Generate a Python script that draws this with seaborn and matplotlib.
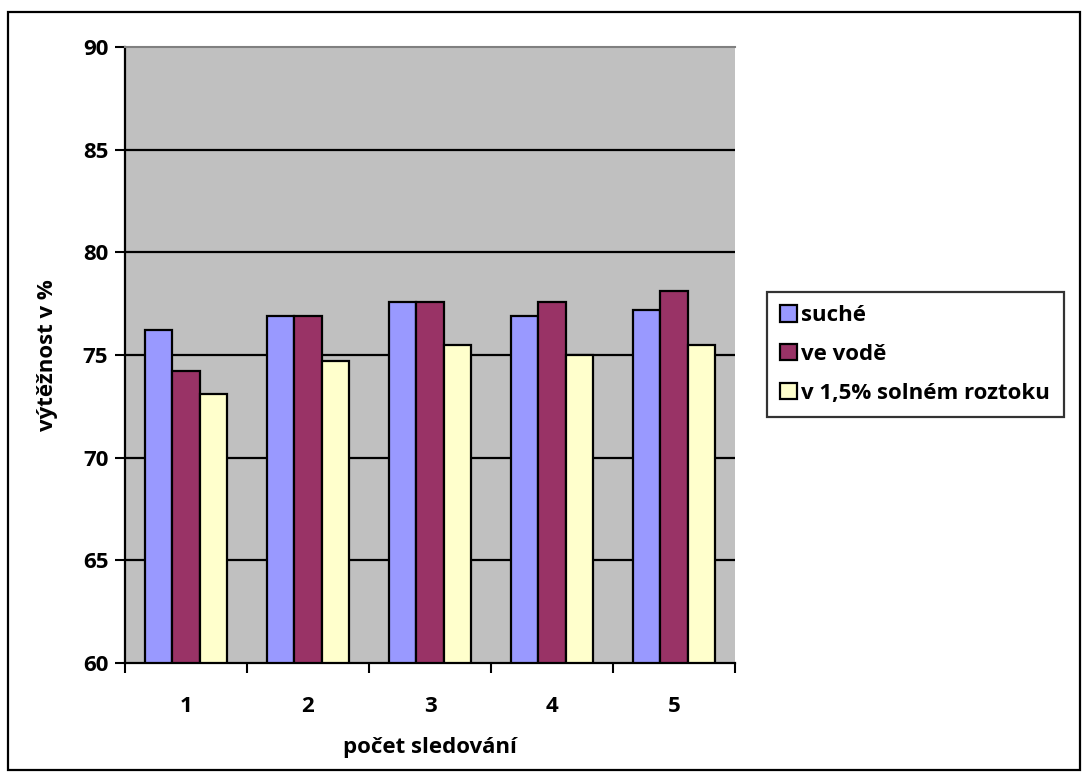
import matplotlib
matplotlib.use("Agg")
import matplotlib.pyplot as plt
import seaborn as sns
import pandas as pd
from matplotlib.patches import Rectangle
from matplotlib.ticker import FixedLocator

# data
categories = ["1", "2", "3", "4", "5"]
series_names = ["suché", "ve vodě", "v 1,5% solném roztoku"]
suche = [76.2, 76.9, 77.6, 76.9, 77.2]
ve_vode = [74.2, 76.9, 77.6, 77.6, 78.1]
solny = [73.1, 74.7, 75.5, 75.0, 75.5]
y_ticks = [60, 65, 70, 75, 80, 85, 90]

colors = ["#9999FF", "#993366", "#FFFFCC"]

df = pd.DataFrame({
    "počet sledování": categories * 3,
    "series": [series_names[0]] * 5 + [series_names[1]] * 5 + [series_names[2]] * 5,
    "value": suche + ve_vode + solny,
})

sns.set_style("white")
plt.rcParams["font.family"] = ["Open Sans", "DejaVu Sans"]
plt.rcParams["font.weight"] = "bold"
for key in ["text.color", "axes.labelcolor", "xtick.color", "ytick.color"]:
    plt.rcParams[key] = "black"
FS = 16

fig = plt.figure(figsize=(10.85, 7.74), dpi=100)
ax = fig.add_axes([125 / 1085, 1 - 663 / 774, 610 / 1085, 616 / 774])
ax.set_facecolor("#C0C0C0")

sns.barplot(data=df, x="počet sledování", y="value", hue="series",
            palette=colors, saturation=1, width=0.68, gap=0, ax=ax,
            edgecolor="black", linewidth=1.6, legend=True)

ax.set_ylim(60, 90)
ax.set_xlim(-0.5, 4.5)
ax.set_yticks(y_ticks)
for y in y_ticks[1:-1]:
    ax.axhline(y, color="black", linewidth=1.6, zorder=0.5)

ax.tick_params(axis="y", which="major", direction="out", length=7, width=1.5,
               left=True, labelsize=FS, pad=5)
ax.tick_params(axis="x", which="major", length=0, labelsize=FS, pad=24)
ax.xaxis.set_minor_locator(FixedLocator([-0.5, 0.5, 1.5, 2.5, 3.5, 4.5]))
ax.tick_params(axis="x", which="minor", direction="out", length=7, width=1.5, bottom=True)
for lbl in ax.get_xticklabels() + ax.get_yticklabels():
    lbl.set_fontweight("bold")

ax.set_xlabel("počet sledování", fontsize=FS, fontweight="bold", labelpad=14)
ax.set_ylabel("výtěžnost v %", fontsize=FS, fontweight="bold", labelpad=18)

for side in ["left", "bottom"]:
    ax.spines[side].set_color("black")
    ax.spines[side].set_linewidth(1.6)
ax.spines["top"].set_color("#808080")
ax.spines["top"].set_linewidth(1.5)
ax.spines["right"].set_visible(False)

handles, labels = ax.get_legend_handles_labels()
ax.get_legend().remove()
leg = fig.legend(handles, labels, loc="upper left",
                 bbox_to_anchor=(767 / 1085, 1 - 292 / 774),
                 frameon=True, fancybox=False, edgecolor="black",
                 prop={"size": FS, "weight": "bold"},
                 handlelength=0.75, handleheight=0.75, handletextpad=0.2,
                 labelspacing=0.8, borderpad=0.6, borderaxespad=0)
leg.get_frame().set_linewidth(1.6)

# figure border
fig.patches.append(Rectangle((8 / 1085, 4 / 774), 1072 / 1085, 758 / 774,
                             transform=fig.transFigure, fill=False,
                             edgecolor="black", linewidth=1.6))

fig.savefig("out.png", dpi=100)
